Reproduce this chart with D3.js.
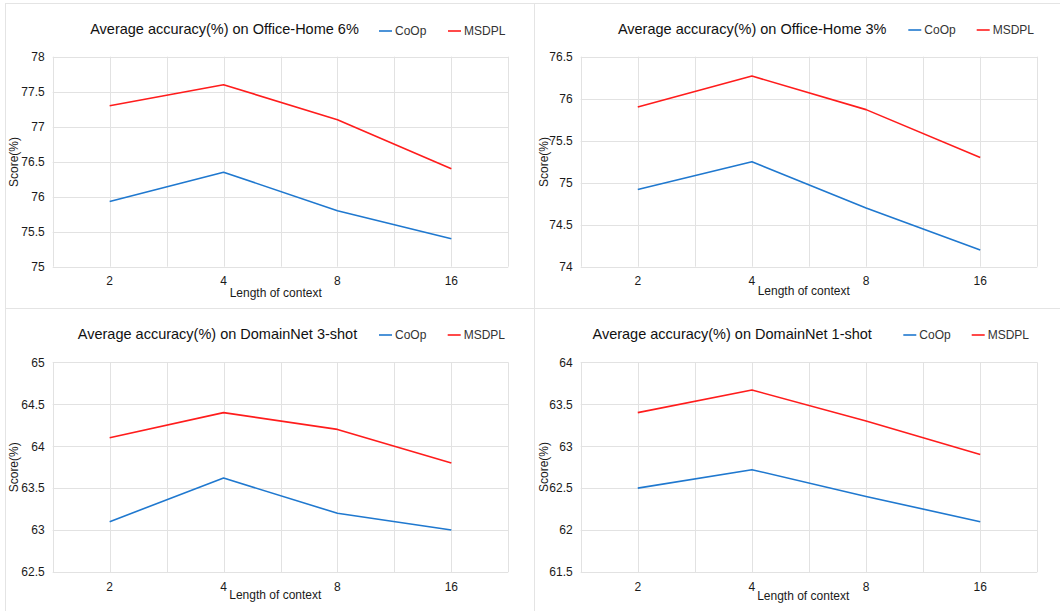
<!DOCTYPE html>
<html>
<head>
<meta charset="utf-8">
<script src="https://cdn.jsdelivr.net/npm/d3@7"></script>
<style>
  html, body { margin: 0; padding: 0; background: #fff; }
  svg { display: block; font-family: "Liberation Sans", Arial, Helvetica, sans-serif; }
</style>
</head>
<body>
<svg id="chart" width="1060" height="611"></svg>
<script>
// ---- data ----
const contexts = ["2", "4", "8", "16"];
const seriesNames = ["CoOp", "MSDPL"];
const seriesColors = ["#1f78cf", "#ff1c1c"];

const titleOH6 = "Average accuracy(%) on Office-Home 6%";
const titleOH3 = "Average accuracy(%) on Office-Home 3%";
const titleDN3 = "Average accuracy(%) on DomainNet 3-shot";
const titleDN1 = "Average accuracy(%) on DomainNet 1-shot";

const coopOH6  = [75.93, 76.35, 75.80, 75.40];
const msdplOH6 = [77.30, 77.60, 77.10, 76.40];
const coopOH3  = [74.92, 75.25, 74.70, 74.20];
const msdplOH3 = [75.90, 76.27, 75.87, 75.30];
const coopDN3  = [63.10, 63.62, 63.20, 63.00];
const msdplDN3 = [64.10, 64.40, 64.20, 63.80];
const coopDN1  = [62.50, 62.72, 62.40, 62.10];
const msdplDN1 = [63.40, 63.67, 63.30, 62.90];

const yTicksOH6 = [75, 75.5, 76, 76.5, 77, 77.5, 78];
const yTicksOH3 = [74, 74.5, 75, 75.5, 76, 76.5];
const yTicksDN3 = [62.5, 63, 63.5, 64, 64.5, 65];
const yTicksDN1 = [61.5, 62, 62.5, 63, 63.5, 64];

const xLabel = "Length of context";
const yLabel = "Score(%)";

// ---- layout ----
const panels = [
  { title: titleOH6, coop: coopOH6, msdpl: msdplOH6, ticks: yTicksOH6,
    box: { l: 52.7, r: 508.3, t: 56.7, b: 266.7 }, titleX: 224.5, titleY: 33.5,
    leg: [379, 448], legY: 31, yLabX: 13.5, yLabY: 162, xLabX: 275.7, xLabY: 296.5 },
  { title: titleOH3, coop: coopOH3, msdpl: msdplOH3, ticks: yTicksOH3,
    box: { l: 580.7, r: 1037.3, t: 56.7, b: 266.7 }, titleX: 752.2, titleY: 33.5,
    leg: [908.3, 976.7], legY: 30, yLabX: 543.5, yLabY: 162, xLabX: 803.7, xLabY: 294.5 },
  { title: titleDN3, coop: coopDN3, msdpl: msdplDN3, ticks: yTicksDN3,
    box: { l: 52.7, r: 508.3, t: 362.3, b: 572 }, titleX: 217.5, titleY: 338.5,
    leg: [379, 447.7], legY: 335, yLabX: 13.5, yLabY: 467.3, xLabX: 275.3, xLabY: 598.5 },
  { title: titleDN1, coop: coopDN1, msdpl: msdplDN1, ticks: yTicksDN1,
    box: { l: 580.7, r: 1037.3, t: 362.3, b: 572 }, titleX: 732.2, titleY: 339,
    leg: [903.3, 971.7], legY: 335, yLabX: 543.5, yLabY: 467, xLabX: 803.2, xLabY: 600 }
];

const svg = d3.select("#chart");
const gridColor = "#e2e2e2";
const borderColor = "#e4e4e4";

// panel borders
svg.append("line").attr("x1", 5).attr("x2", 1060).attr("y1", 3.5).attr("y2", 3.5).attr("stroke", borderColor);
svg.append("line").attr("x1", 5.5).attr("x2", 5.5).attr("y1", 3).attr("y2", 611).attr("stroke", borderColor);
svg.append("line").attr("x1", 534.5).attr("x2", 534.5).attr("y1", 3).attr("y2", 611).attr("stroke", borderColor);
svg.append("line").attr("x1", 5).attr("x2", 1060).attr("y1", 308.5).attr("y2", 308.5).attr("stroke", borderColor);

panels.forEach(p => {
  const g = svg.append("g");
  const x = d3.scaleBand().domain(contexts).range([p.box.l, p.box.r]).padding(0);
  const y = d3.scaleLinear().domain([p.ticks[0], p.ticks[p.ticks.length - 1]]).range([p.box.b, p.box.t]);
  const cx = d => x(d) + x.bandwidth() / 2;

  // horizontal gridlines
  g.selectAll(".hg").data(p.ticks).join("line")
    .attr("x1", p.box.l).attr("x2", p.box.r)
    .attr("y1", d => Math.round(y(d)) + 0.5).attr("y2", d => Math.round(y(d)) + 0.5)
    .attr("stroke", gridColor).attr("stroke-width", 1);

  // vertical gridlines: band boundaries and band centers
  const vx = [];
  contexts.forEach(c => { vx.push(x(c)); vx.push(cx(c)); });
  vx.push(p.box.r);
  g.selectAll(".vg").data(vx).join("line")
    .attr("x1", d => Math.round(d) + 0.5).attr("x2", d => Math.round(d) + 0.5)
    .attr("y1", p.box.t).attr("y2", p.box.b)
    .attr("stroke", gridColor).attr("stroke-width", 1);

  // y axis tick labels
  const yAxis = d3.axisLeft(y).tickValues(p.ticks).tickSize(0).tickPadding(8)
    .tickFormat(d => d3.format("")(d));
  const ya = g.append("g").attr("transform", `translate(${p.box.l},0)`).call(yAxis);
  ya.select(".domain").remove();
  ya.selectAll("text").attr("font-size", 12).attr("fill", "#1a1a1a")
    .attr("font-family", "'Liberation Sans', Arial, sans-serif");

  // x axis tick labels
  const xAxis = d3.axisBottom(x).tickSize(0).tickPadding(10);
  const xa = g.append("g").attr("transform", `translate(0,${p.box.b})`).call(xAxis);
  xa.select(".domain").remove();
  xa.selectAll("text").attr("font-size", 12).attr("fill", "#1a1a1a")
    .attr("font-family", "'Liberation Sans', Arial, sans-serif");

  // lines
  const line = d3.line().x((d, i) => cx(contexts[i])).y(d => y(d));
  [p.coop, p.msdpl].forEach((vals, si) => {
    g.append("path").datum(vals).attr("d", line)
      .attr("fill", "none").attr("stroke", seriesColors[si]).attr("stroke-width", 1.6)
      .attr("stroke-linejoin", "round");
  });

  // title
  g.append("text").attr("x", p.titleX).attr("y", p.titleY).attr("text-anchor", "middle")
    .attr("font-size", 14.5).attr("fill", "#111").text(p.title);

  // legend
  seriesNames.forEach((n, i) => {
    const lx = p.leg[i];
    g.append("line").attr("x1", lx).attr("x2", lx + 13).attr("y1", p.legY).attr("y2", p.legY)
      .attr("stroke", seriesColors[i]).attr("stroke-width", 1.6);
    g.append("text").attr("x", lx + 16).attr("y", p.legY + 4.3)
      .attr("font-size", 12).attr("fill", "#333").text(n);
  });

  // axis titles
  g.append("text").attr("x", p.xLabX).attr("y", p.xLabY).attr("text-anchor", "middle")
    .attr("font-size", 12).attr("fill", "#1a1a1a").text(xLabel);
  g.append("text").attr("transform", `translate(${p.yLabX},${p.yLabY}) rotate(-90)`)
    .attr("dy", "0.35em").attr("text-anchor", "middle")
    .attr("font-size", 12).attr("fill", "#1a1a1a").text(yLabel);
});
</script>
</body>
</html>
